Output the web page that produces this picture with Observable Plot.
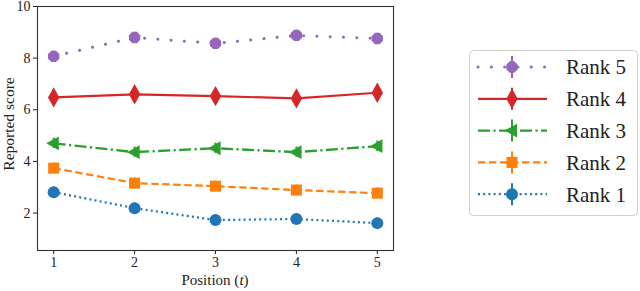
<!DOCTYPE html>
<html><head><meta charset="utf-8">
<script src="https://cdn.jsdelivr.net/npm/d3@7"></script>
<script src="https://cdn.jsdelivr.net/npm/@observablehq/plot@0.6"></script>
<style>
body{margin:0;background:#fff;}
#chart{position:relative;width:640px;height:291px;}
#chart text.serif{font-family:"Liberation Serif","DejaVu Serif",serif;}
</style>
</head><body><div id="chart"></div>
<script>
const positions = [1, 2, 3, 4, 5];
const rank1 = [2.81, 2.19, 1.73, 1.77, 1.61];
const rank2 = [3.74, 3.16, 3.04, 2.89, 2.77];
const rank3 = [4.70, 4.36, 4.51, 4.36, 4.59];
const rank4 = [6.48, 6.60, 6.53, 6.44, 6.66];
const rank5 = [8.07, 8.80, 8.57, 8.88, 8.76];
const err1 = [0.2, 0.2, 0.2, 0.2, 0.2];
const err2 = [0.2, 0.2, 0.2, 0.2, 0.2];
const err3 = [0.2, 0.2, 0.2, 0.2, 0.2];
const err4 = [0.2, 0.2, 0.2, 0.2, 0.2];
const err5 = [0.2, 0.2, 0.2, 0.2, 0.2];
const seriesNames = ["Rank 1", "Rank 2", "Rank 3", "Rank 4", "Rank 5"];
const xTicks = [1, 2, 3, 4, 5];
const yTicks = [2, 4, 6, 8, 10];

// symbols
const rad = s => Math.sqrt(s / Math.PI);
const symCircle = {draw(c, s){ const r = rad(s); c.moveTo(r,0); c.arc(0,0,r,0,2*Math.PI); c.closePath(); }};
const symSquare = {draw(c, s){ const r = rad(s)*0.92; c.rect(-r,-r,2*r,2*r); }};
const symTriLeft = {draw(c, s){ const r = rad(s); c.moveTo(-r*1.25,0); c.lineTo(r*0.85,-r*1.15); c.lineTo(r*0.85,r*1.15); c.closePath(); }};
const symThinDiamond = {draw(c, s){ const r = rad(s); c.moveTo(0,-r*1.7); c.lineTo(r*0.95,0); c.lineTo(0,r*1.7); c.lineTo(-r*0.95,0); c.closePath(); }};
const symOctagon = {draw(c, s){ const r = rad(s)*1.02; for(let i=0;i<8;i++){ const a = Math.PI/8 + i*Math.PI/4; const x=r*Math.cos(a), y=r*Math.sin(a); if(i===0) c.moveTo(x,y); else c.lineTo(x,y);} c.closePath(); }};

const styles = [
  {color:"#1f77b4", dash:"2,3.2", width:2.2, cap:"butt", sym:symCircle},
  {color:"#ff7f0e", dash:"7.4,3.6", width:2.2, cap:"butt", sym:symSquare},
  {color:"#2ca02c", dash:"12,3.4,2.2,3.4", width:2.4, cap:"butt", sym:symTriLeft},
  {color:"#d62728", dash:null, width:2.2, cap:"butt", sym:symThinDiamond},
  {color:"#9467bd", dash:"0.1,13.2", width:3, cap:"round", sym:symOctagon}
];

const values = [rank1, rank2, rank3, rank4, rank5];
const errs = [err1, err2, err3, err4, err5];
const tables = values.map((vals, i) => positions.map((p, j) => ({x: p, y: vals[j], e: errs[i][j]})));

const FONT = "Liberation Serif";
const marks = [
  Plot.axisX({ticks: xTicks, tickSize: 4, tickPadding: 3, label: null, fontSize: 14, tickFormat: d => String(d)}),
  Plot.axisY({ticks: yTicks, tickSize: 4, tickPadding: 3, label: null, fontSize: 14, tickFormat: d => String(d)}),
];
tables.forEach((t, i) => {
  const st = styles[i];
  marks.push(Plot.line(t, {x: "x", y: "y", stroke: st.color, strokeWidth: st.width, strokeDasharray: st.dash || undefined, strokeLinecap: st.cap}));
  marks.push(Plot.ruleX(t, {x: "x", y1: d => d.y - d.e, y2: d => d.y + d.e, stroke: st.color, strokeWidth: 2}));
  marks.push(Plot.dot(t, {x: "x", y: "y", symbol: st.sym, r: 6, fill: st.color, stroke: "none"}));
});
marks.push(Plot.frame({stroke: "#333", strokeWidth: 1.1}));

const svg = Plot.plot({
  width: 640, height: 291,
  marginLeft: 37, marginRight: 247, marginTop: 6, marginBottom: 41,
  style: {fontFamily: FONT, color: "#222", background: "#fff", overflow: "visible"},
  x: {type: "linear", domain: [0.8, 5.2]},
  y: {type: "linear", domain: [0.55, 10]},
  marks
});
document.getElementById("chart").appendChild(svg);

const s = d3.select(svg);
// axis labels
const xl = s.append("text").attr("class", "serif").attr("x", 215).attr("y", 285).attr("text-anchor", "middle")
  .attr("font-family", FONT).attr("font-size", 15).attr("fill", "#222");
xl.append("tspan").text("Position (");
xl.append("tspan").attr("font-style", "italic").text("t");
xl.append("tspan").text(")");
s.append("text").attr("class", "serif").attr("transform", "translate(14,124) rotate(-90)").attr("text-anchor", "middle")
  .attr("font-family", FONT).attr("font-size", 15.5).attr("fill", "#222").text("Reported score");

// legend
const lg = s.append("g");
lg.append("rect").attr("x", 469.5).attr("y", 50.5).attr("width", 168).attr("height", 165).attr("rx", 4)
  .attr("fill", "#fff").attr("stroke", "#d0d0d0").attr("stroke-width", 1);
const order = [4, 3, 2, 1, 0];
order.forEach((si, k) => {
  const st = styles[si];
  const y = 67 + k * 31.8;
  lg.append("line").attr("x1", 478).attr("x2", 547).attr("y1", y).attr("y2", y)
    .attr("stroke", st.color).attr("stroke-width", st.width)
    .attr("stroke-dasharray", st.dash).attr("stroke-linecap", st.cap);
  lg.append("line").attr("x1", 512).attr("x2", 512).attr("y1", y - 11).attr("y2", y + 11)
    .attr("stroke", st.color).attr("stroke-width", 2);
  lg.append("path").attr("transform", `translate(512,${y})`)
    .attr("d", d3.symbol().type(st.sym).size(36 * Math.PI)())
    .attr("fill", st.color);
  lg.append("text").attr("class", "serif").attr("x", 566).attr("y", y).attr("dy", "0.35em").attr("text-anchor", "start")
    .attr("font-family", FONT).attr("font-size", 21).attr("fill", "#222").text(seriesNames[si]);
});
</script>
</body></html>
